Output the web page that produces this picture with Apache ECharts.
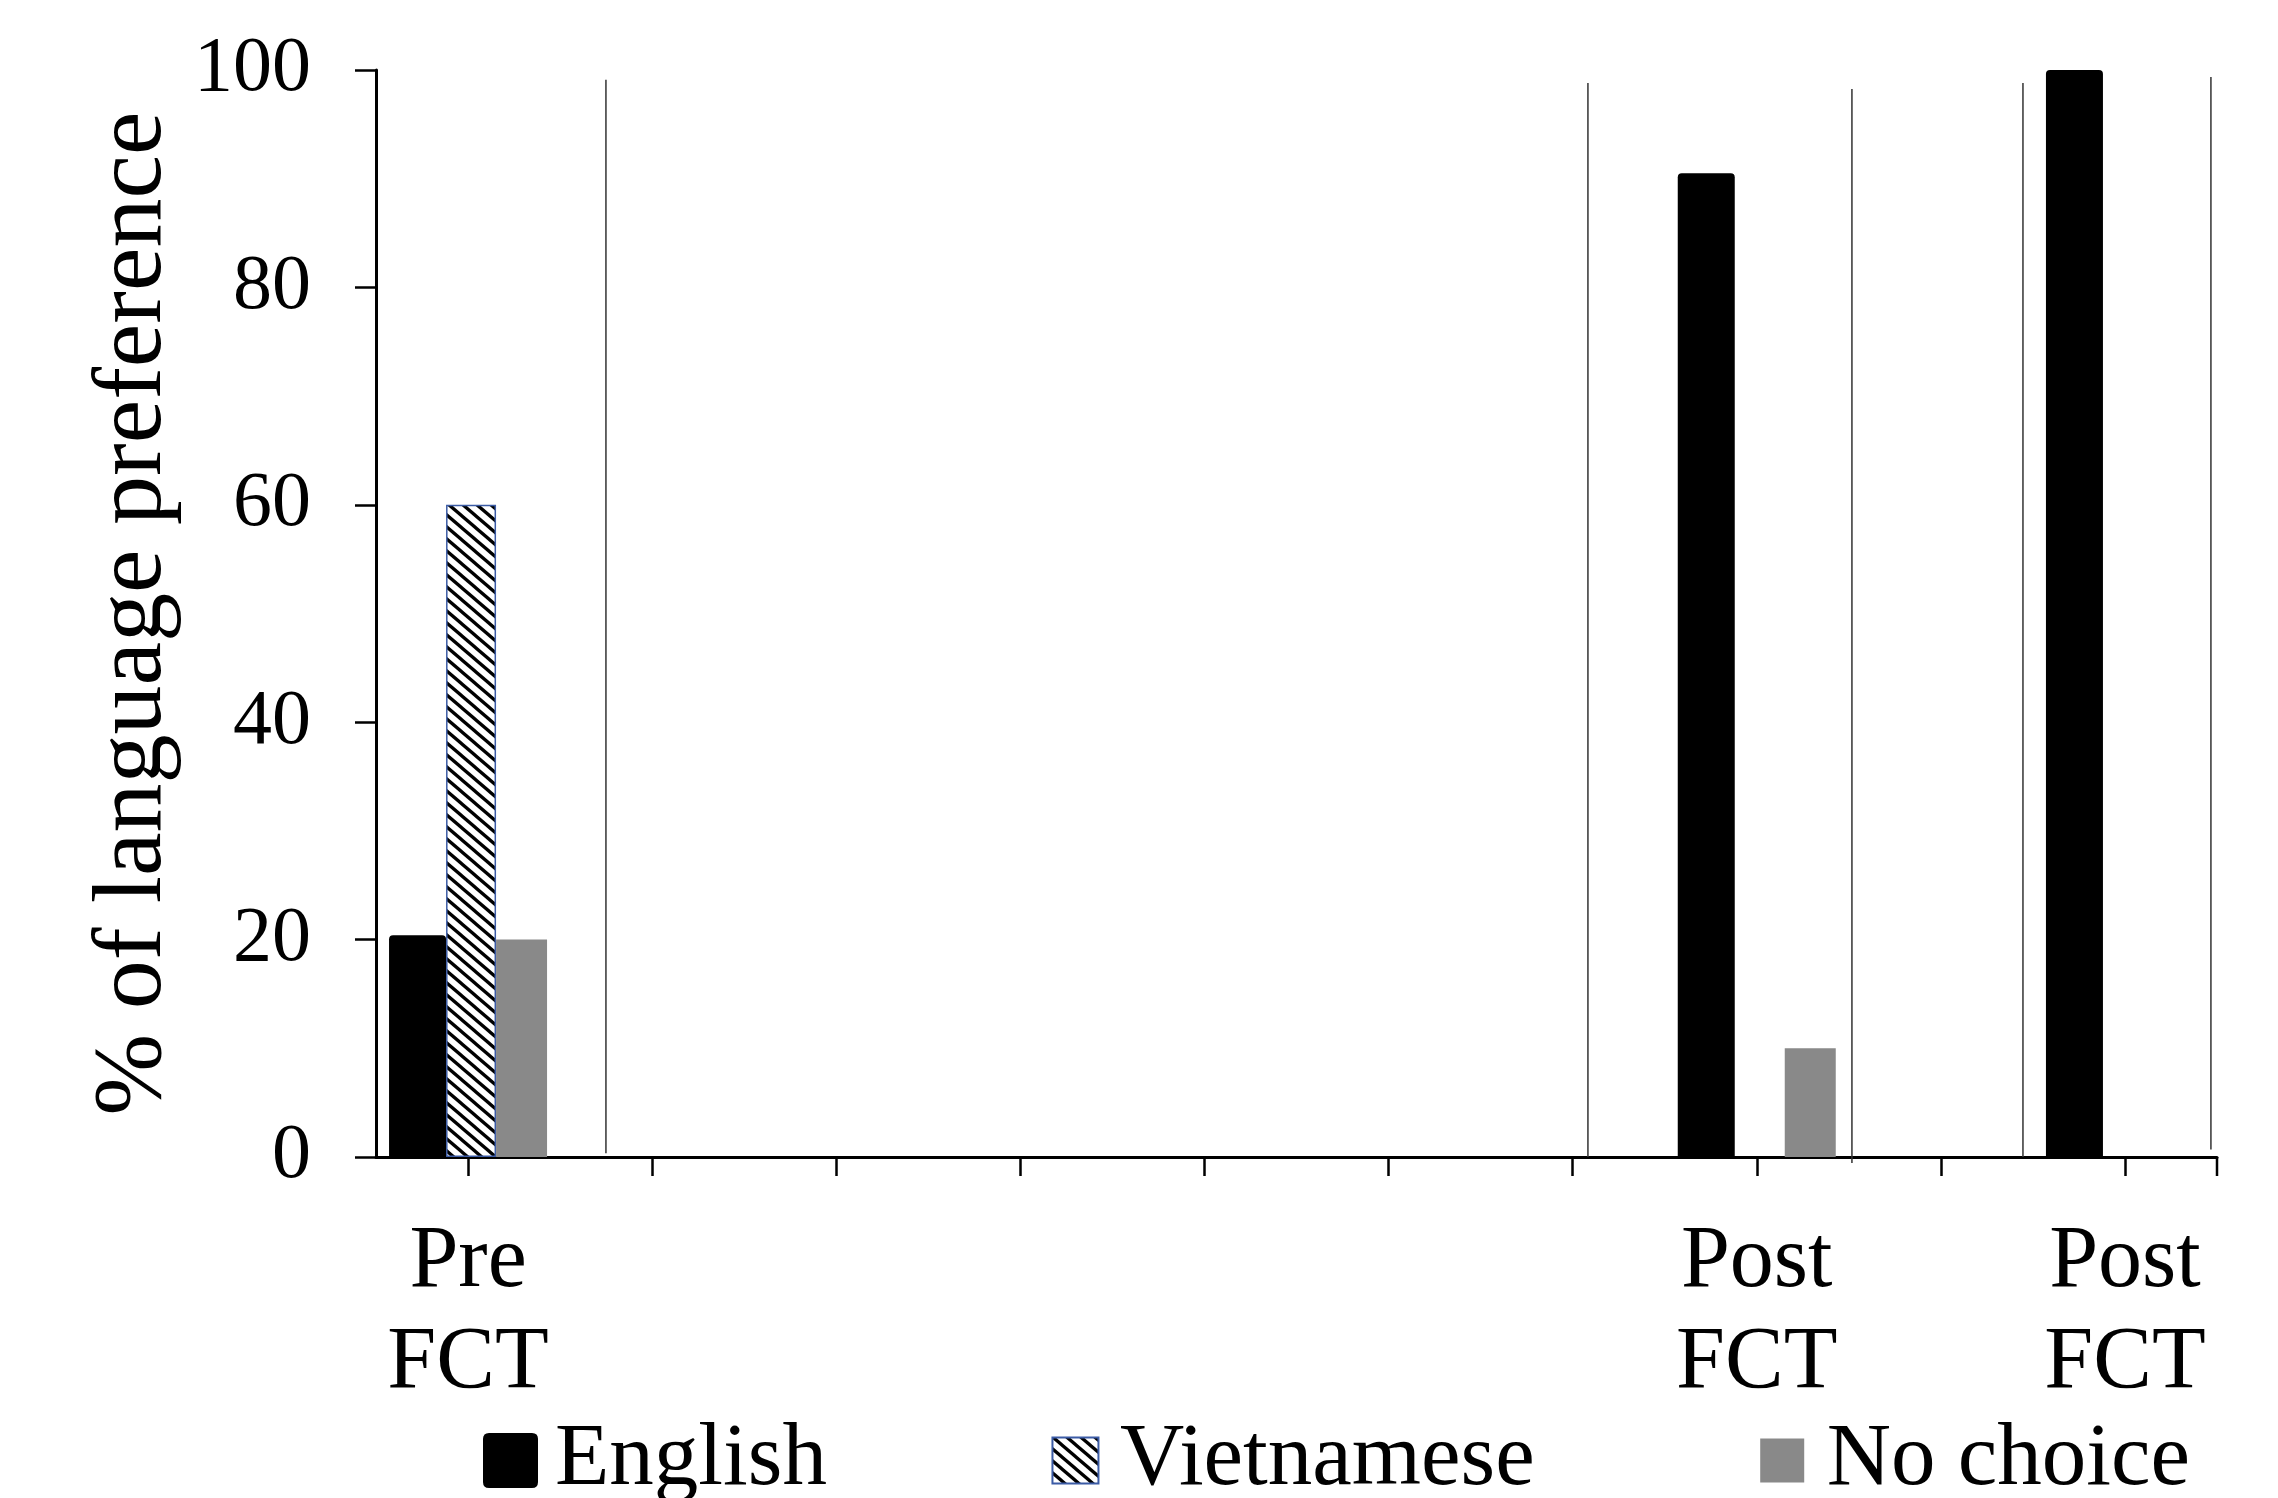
<!DOCTYPE html>
<html>
<head>
<meta charset="utf-8">
<script src="https://cdn.jsdelivr.net/npm/echarts@6/dist/echarts.min.js"></script>
<style>
  html, body { margin: 0; padding: 0; background: #fff; }
  #chart { width: 2278px; height: 1498px; }
</style>
</head>
<body>
<div id="chart"></div>
<script>
// ---- data ----
const categories = ['Pre\nFCT', '', '', '', '', '', '', 'Post\nFCT', '', 'Post\nFCT'];
const seriesNames = ['English', 'Vietnamese', 'No choice'];
const english    = [20.4, '-', '-', '-', '-', '-', '-', 90.5, '-', 100];
const vietnamese = [60,   '-', '-', '-', '-', '-', '-', '-',  '-', '-'];
const noChoice   = [20,   '-', '-', '-', '-', '-', '-', 10,   '-', '-'];
const yMin = 0, yMax = 100, yInterval = 20;
const yAxisTitle = '% of language preference';
// thin vertical divider lines (position in category units, 0..10)
const dividerX      = [1.249, 6.583, 8.017, 8.946, 9.967];
const dividerTop    = [99.1, 98.8, 98.25, 98.8, 99.35];
const dividerBottom = [0.35, 0, -0.55, 0, 0.7];

// ---- hatch pattern for Vietnamese ----
function makeHatch() {
  const w = 14, h = 12;
  const c = document.createElement('canvas');
  c.width = w; c.height = h;
  const ctx = c.getContext('2d');
  ctx.fillStyle = '#fff';
  ctx.fillRect(0, 0, w, h);
  ctx.strokeStyle = '#000';
  ctx.lineWidth = 3.3;
  [-w, 0, w].forEach(k => {
    ctx.beginPath();
    ctx.moveTo(k - w * 0.2, -h * 0.2);
    ctx.lineTo(k + w * 1.2, h * 1.2);
    ctx.stroke();
  });
  return c;
}
const hatch = { image: makeHatch(), repeat: 'repeat' };

const FONT = '"Liberation Serif", "Times New Roman", serif';
const chart = echarts.init(document.getElementById('chart'), null, { renderer: 'canvas' });

const dividerSeries = dividerX.map((x, i) => ({
  type: 'line',
  xAxisIndex: 1,
  yAxisIndex: 0,
  data: [[x, dividerBottom[i]], [x, dividerTop[i]]],
  symbol: 'none',
  silent: true,
  clip: false,
  lineStyle: { color: '#333', width: 1.5 },
  z: 1
}));

const option = {
  backgroundColor: '#fff',
  animation: false,
  grid: { left: 376, right: 61, top: 70, bottom: 341, outerBoundsMode: 'none' },
  legend: {
    data: [
      { name: seriesNames[0], icon: 'path://M6 0H49Q55 0 55 6V49Q55 55 49 55H6Q0 55 0 49V6Q0 0 6 0Z' },
      { name: seriesNames[1], icon: 'path://M0 0M55 55M4.5 4.5H50.5V50.5H4.5Z' },
      { name: seriesNames[2], icon: 'path://M0 0M55 55M5.5 5.5H49.5V49.5H5.5Z' }
    ],
    left: 483,
    top: 1416,
    padding: 0,
    itemWidth: 55,
    itemHeight: 55,
    itemGap: 220,
    textStyle: { fontFamily: FONT, fontSize: 89, color: '#000', lineHeight: 88, padding: [0, 0, 0, 12] }
  },
  xAxis: [{
    type: 'category',
    data: categories,
    boundaryGap: true,
    axisLine: { lineStyle: { color: '#000', width: 3 } },
    axisTick: { show: true, alignWithLabel: true, length: 19, lineStyle: { color: '#000', width: 2.5 } },
    axisLabel: { interval: 0, fontFamily: FONT, fontSize: 88, lineHeight: 101, color: '#000', margin: 55 },
    splitLine: { show: false }
  }, {
    type: 'value',
    min: 0,
    max: 10,
    show: false
  }],
  yAxis: {
    type: 'value',
    min: yMin,
    max: yMax,
    interval: yInterval,
    name: yAxisTitle,
    nameLocation: 'middle',
    nameGap: 172,
    nameTextStyle: { fontFamily: FONT, fontSize: 98, color: '#000' },
    axisLine: { show: true, lineStyle: { color: '#000', width: 3 } },
    axisTick: { show: true, length: 21, lineStyle: { color: '#000', width: 2.5 } },
    axisLabel: { fontFamily: FONT, fontSize: 78, color: '#000', margin: 65 },
    splitLine: { show: false }
  },
  series: [
    {
      name: seriesNames[0], type: 'bar', data: english, barWidth: 57, barGap: '0%',
      itemStyle: { color: '#000', borderRadius: [4, 4, 0, 0] }, z: 2
    },
    {
      name: seriesNames[1], type: 'bar', data: vietnamese, barWidth: 50, barGap: '0%',
      itemStyle: { color: hatch, borderColor: '#3b5ba5', borderWidth: 1.5 }, z: 2
    },
    {
      name: seriesNames[2], type: 'bar', data: noChoice, barWidth: 51, barGap: '0%',
      itemStyle: { color: '#898989' }, z: 2
    },
    ...dividerSeries,
    {
      type: 'line', xAxisIndex: 1, yAxisIndex: 0,
      data: [[10, 0], [10, -1.75]],
      symbol: 'none', silent: true, clip: false,
      lineStyle: { color: '#000', width: 2.5 }, z: 3
    }
  ]
};
chart.setOption(option);
</script>
</body>
</html>
